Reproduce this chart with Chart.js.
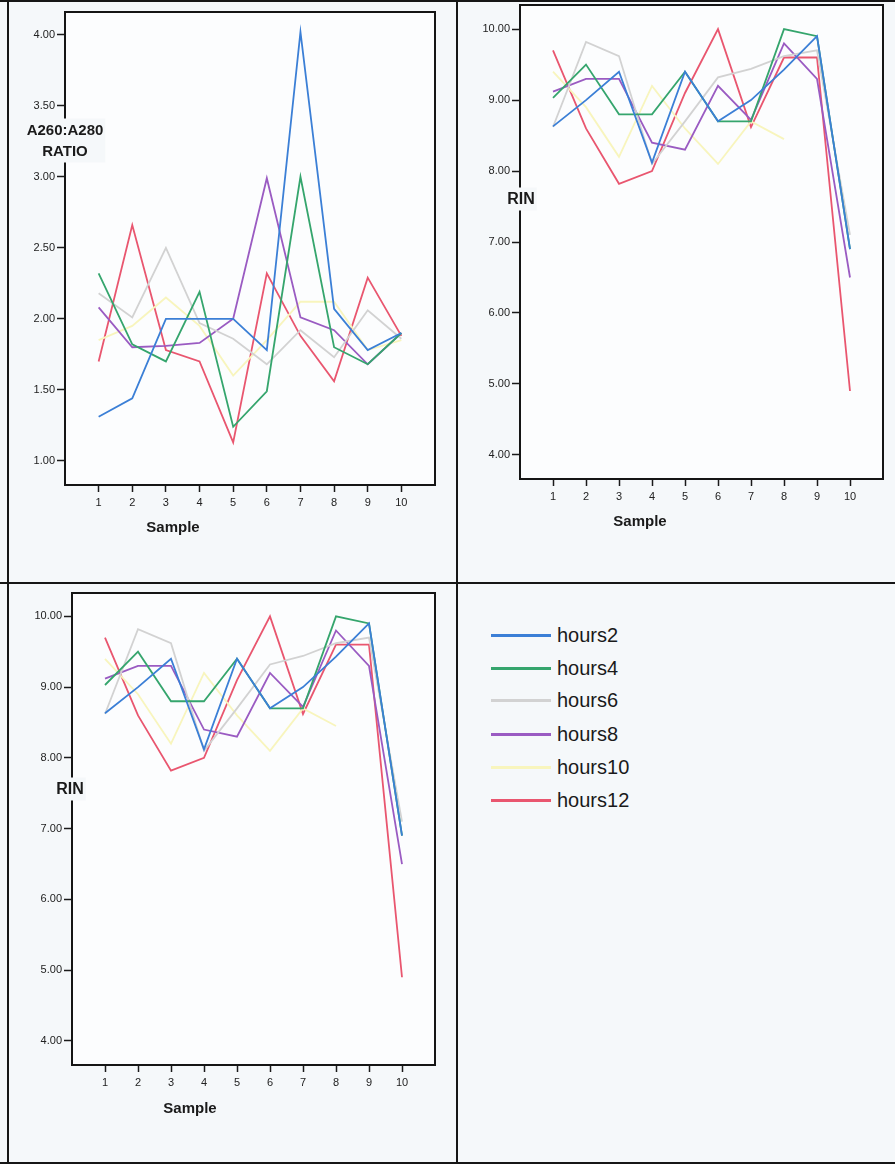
<!DOCTYPE html>
<html><head><meta charset="utf-8">
<script src="https://cdn.jsdelivr.net/npm/chart.js@4/dist/chart.umd.min.js"></script>
<style>
html,body{margin:0;padding:0;background:#f5f8fa;width:895px;height:1164px;overflow:hidden;position:relative;font-family:"Liberation Sans",Arial,sans-serif}
canvas{position:absolute}
.ln{position:absolute;background:#161616}
#legend{position:absolute;left:491px;top:620px;width:300px;height:220px}
.row{position:absolute;left:0;height:30px;white-space:nowrap}
.sw{position:absolute;left:0;top:14px;width:60px;height:3px}
.lt{position:absolute;left:66px;top:2px;font-size:20px;color:#1a1a1a;line-height:26px}
</style></head>
<body>
<div class="ln" style="left:0;top:0;width:895px;height:2px"></div>
<div class="ln" style="left:7px;top:0;width:2px;height:1164px"></div>
<div class="ln" style="left:456px;top:0;width:2px;height:1164px"></div>
<div class="ln" style="left:0;top:582px;width:895px;height:2px"></div>
<div class="ln" style="left:0;top:1162px;width:895px;height:2px"></div>
<canvas id="c1" width="449" height="603" style="left:8px;top:-20px"></canvas>
<canvas id="c2" width="438" height="603" style="left:457px;top:-20px"></canvas>
<canvas id="c3" width="449" height="591" style="left:8px;top:573px"></canvas>
<div id="legend"></div>
<script>
// ---- data ----
const samples = [1, 2, 3, 4, 5, 6, 7, 8, 9, 10];
const seriesNames = ['hours2', 'hours4', 'hours6', 'hours8', 'hours10', 'hours12'];

// A260:A280 ratio
const ratioHours2  = [1.31, 1.44, 2.00, 2.00, 2.00, 1.78, 4.02, 2.07, 1.78, 1.90];
const ratioHours4  = [2.32, 1.82, 1.70, 2.19, 1.24, 1.49, 3.00, 1.80, 1.68, 1.90];
const ratioHours6  = [2.18, 2.01, 2.50, 1.97, 1.86, 1.68, 1.92, 1.73, 2.06, 1.86];
const ratioHours8  = [2.08, 1.80, 1.81, 1.83, 2.00, 2.99, 2.01, 1.92, 1.68, 1.90];
const ratioHours10 = [1.85, 1.95, 2.15, 1.95, 1.60, 1.85, 2.12, 2.12, 1.78, 1.85];
const ratioHours12 = [1.70, 2.66, 1.78, 1.70, 1.13, 2.32, 1.88, 1.56, 2.29, 1.88];

// RIN
const rinHours2  = [8.63, 9.00, 9.40, 8.12, 9.40, 8.70, 9.00, 9.43, 9.90, 6.90];
const rinHours4  = [9.03, 9.50, 8.80, 8.80, 9.40, 8.70, 8.70, 10.00, 9.90, 6.90];
const rinHours6  = [8.62, 9.82, 9.62, 8.10, 8.70, 9.32, 9.44, 9.62, 9.70, 7.10];
const rinHours8  = [9.12, 9.30, 9.30, 8.40, 8.30, 9.20, 8.72, 9.80, 9.30, 6.50];
const rinHours10 = [9.40, 8.90, 8.20, 9.20, 8.60, 8.10, 8.70, 8.45, null, null];
const rinHours12 = [9.70, 8.60, 7.82, 8.00, 9.10, 10.00, 8.62, 9.60, 9.60, 4.90];

const ratioTicks = [1.00, 1.50, 2.00, 2.50, 3.00, 3.50, 4.00];
const rinTicks = [4.00, 5.00, 6.00, 7.00, 8.00, 9.00, 10.00];

const ratioSeries = [ratioHours2, ratioHours4, ratioHours6, ratioHours8, ratioHours10, ratioHours12];
const rinSeries = [rinHours2, rinHours4, rinHours6, rinHours8, rinHours10, rinHours12];

// ---- styles ----
const seriesColors = ['#3b7fd6', '#35a56d', '#d2d2d2', '#9a5bc2', '#f8f5bd', '#e9566f'];
const FONT = '"Liberation Sans", Arial, sans-serif';
const PAGE_BG = '#f5f8fa';

const boxPlugin = {
  id: 'box',
  beforeDraw(chart) {
    const a = chart.chartArea, c = chart.ctx;
    c.save();
    c.fillStyle = '#fcfdfe';
    c.fillRect(a.left, a.top, a.right - a.left, a.bottom - a.top);
    c.restore();
  },
  afterDraw(chart, args, o) {
    const a = chart.chartArea, c = chart.ctx;
    c.save();
    c.strokeStyle = '#151515';
    c.lineWidth = 2;
    c.strokeRect(a.left, a.top, a.right - a.left, a.bottom - a.top);
    c.fillStyle = '#1a1a1a';
    c.textAlign = 'center';
    c.textBaseline = 'middle';
    c.font = 'bold 15px ' + FONT;
    c.fillText(o.xTitle, a.left + o.xdx, a.bottom + o.xdy);
    c.font = 'bold ' + o.ySize + 'px ' + FONT;
    const lines = o.yTitle;
    let w = 0;
    lines.forEach(l => { w = Math.max(w, c.measureText(l).width); });
    const cx = a.left + o.ydx, cy = a.top + o.ydy;
    const h = lines.length * o.ylh;
    c.fillStyle = PAGE_BG;
    c.fillRect(cx - w / 2 - 2, cy - o.ylh / 2 - 2, w + 4, h + 2);
    c.fillStyle = '#1a1a1a';
    lines.forEach((l, i) => c.fillText(l, cx, cy + i * o.ylh));
    c.restore();
  }
};

function makeChart(id, series, yTicks, yMin, yMax, cfg) {
  const datasets = series.map((vals, i) => ({
    label: seriesNames[i],
    data: samples.map((s, j) => ({ x: s, y: vals[j] })),
    borderColor: seriesColors[i],
    backgroundColor: seriesColors[i],
    borderWidth: 1.8,
    pointRadius: 0,
    tension: 0,
    fill: false,
    spanGaps: false
  }));
  return new Chart(document.getElementById(id), {
    type: 'line',
    data: { datasets },
    plugins: [boxPlugin],
    options: {
      responsive: false,
      animation: false,
      devicePixelRatio: 1,
      layout: { padding: cfg.padding },
      plugins: {
        legend: { display: false },
        tooltip: { enabled: false },
        box: cfg.titles
      },
      scales: {
        x: {
          type: 'linear', min: 0, max: 11,
          afterBuildTicks: s => { s.ticks = samples.map(v => ({ value: v })); },
          afterFit: s => { s.height = cfg.xh; },
          border: { display: false },
          grid: { display: true, drawOnChartArea: false, drawTicks: true, tickLength: 7, tickColor: '#1a1a1a', tickWidth: 1.5 },
          ticks: { autoSkip: false, maxRotation: 0, padding: 4, color: '#222', font: { family: FONT, size: 11 }, callback: v => String(v) }
        },
        y: {
          type: 'linear', min: yMin, max: yMax,
          afterBuildTicks: s => { s.ticks = yTicks.map(v => ({ value: v })); },
          afterFit: s => { s.width = cfg.yw; },
          border: { display: false },
          grid: { display: true, drawOnChartArea: false, drawTicks: true, tickLength: 8, tickColor: '#1a1a1a', tickWidth: 1.5 },
          ticks: { padding: 2, color: '#222', font: { family: FONT, size: 11 }, callback: v => Number(v).toFixed(2) }
        }
      }
    }
  });
}

makeChart('c1', ratioSeries, ratioTicks, 0.83, 4.16, {
  padding: { left: 0, top: 32, right: 22, bottom: 0 }, xh: 98, yw: 57,
  titles: { xTitle: 'Sample', xdx: 108, xdy: 43, yTitle: ['A260:A280', 'RATIO'], ySize: 15, ydx: 0, ydy: 119, ylh: 21 }
});
makeChart('c2', rinSeries, rinTicks, 3.66, 10.34, {
  padding: { left: 0, top: 25, right: 12, bottom: 0 }, xh: 104, yw: 63,
  titles: { xTitle: 'Sample', xdx: 120, xdy: 43, yTitle: ['RIN'], ySize: 16, ydx: 1, ydy: 195, ylh: 21 }
});
makeChart('c3', rinSeries, rinTicks, 3.66, 10.33, {
  padding: { left: 0, top: 20, right: 22, bottom: 0 }, xh: 99, yw: 64,
  titles: { xTitle: 'Sample', xdx: 118, xdy: 44, yTitle: ['RIN'], ySize: 16, ydx: -2, ydy: 197, ylh: 21 }
});

// legend
const leg = document.getElementById('legend');
const rowTops = [0, 33, 65, 99, 132, 165];
seriesNames.forEach((n, i) => {
  const r = document.createElement('div');
  r.className = 'row';
  r.style.top = rowTops[i] + 'px';
  const sw = document.createElement('div');
  sw.className = 'sw';
  sw.style.background = seriesColors[i];
  const t = document.createElement('div');
  t.className = 'lt';
  t.textContent = n;
  r.appendChild(sw); r.appendChild(t);
  leg.appendChild(r);
});
</script>
</body></html>
